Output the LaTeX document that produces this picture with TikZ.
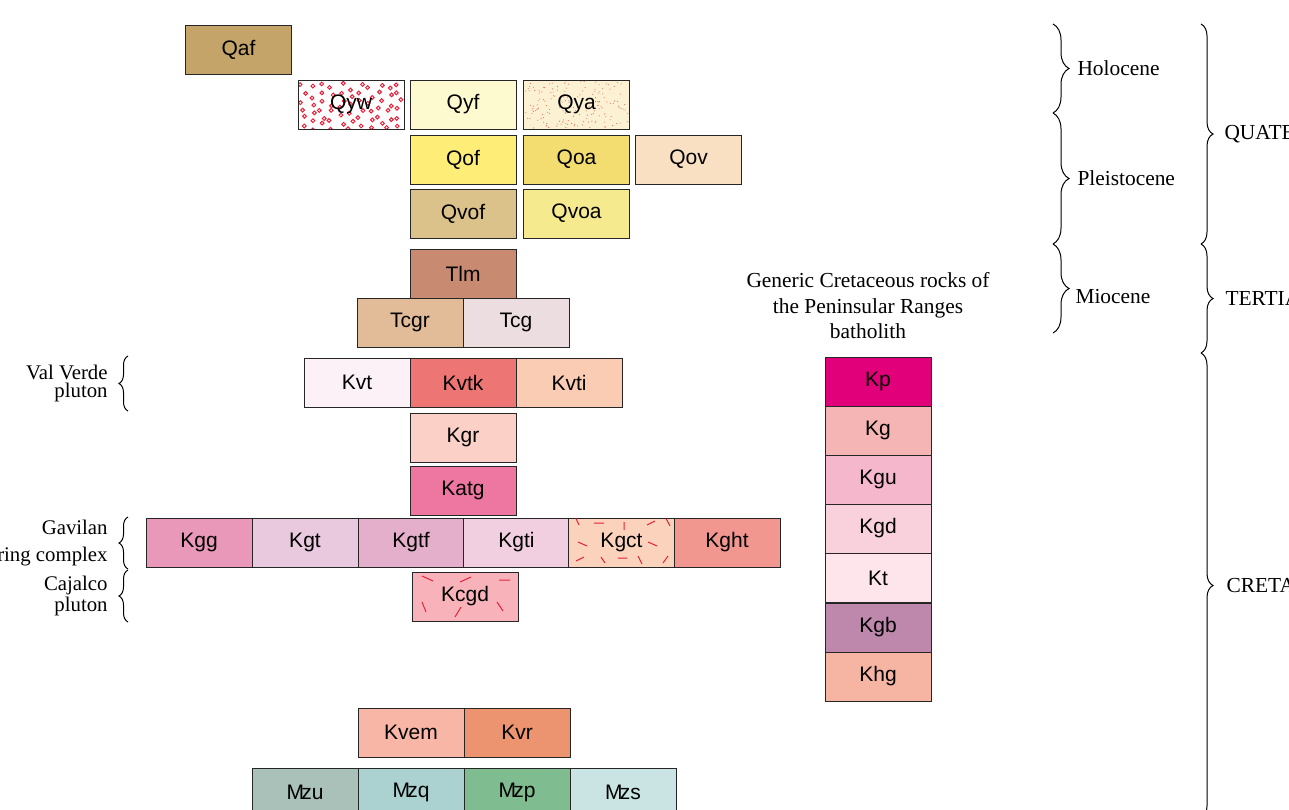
\documentclass[tikz,border=0pt]{standalone}
\usepackage{fontspec}
\setmainfont{Liberation Serif}
\setsansfont{Liberation Sans}
\usetikzlibrary{calc,decorations.pathreplacing}

% unit colours
\definecolor{cQaf}{HTML}{C4A469}
\definecolor{cQyw}{HTML}{FFFFFF}
\definecolor{cQyf}{HTML}{FEFAD0}
\definecolor{cQya}{HTML}{FCF1D3}
\definecolor{cQof}{HTML}{FEEE77}
\definecolor{cQoa}{HTML}{F3DD71}
\definecolor{cQov}{HTML}{F9E0C2}
\definecolor{cQvof}{HTML}{DBC18A}
\definecolor{cQvoa}{HTML}{F6EA8E}
\definecolor{cTlm}{HTML}{C98A72}
\definecolor{cTcgr}{HTML}{E2BB99}
\definecolor{cTcg}{HTML}{EBDDE0}
\definecolor{cKvt}{HTML}{FCF1F6}
\definecolor{cKvtk}{HTML}{ED7675}
\definecolor{cKvti}{HTML}{FACCB3}
\definecolor{cKgr}{HTML}{FBD0C7}
\definecolor{cKatg}{HTML}{EE77A2}
\definecolor{cKgg}{HTML}{EA98B9}
\definecolor{cKgt}{HTML}{E8C9DE}
\definecolor{cKgtf}{HTML}{E4AFCB}
\definecolor{cKgti}{HTML}{F2CFE0}
\definecolor{cKgct}{HTML}{FBD3BD}
\definecolor{cKght}{HTML}{F29790}
\definecolor{cKcgd}{HTML}{F8B3BA}
\definecolor{cKp}{HTML}{E2007A}
\definecolor{cKg}{HTML}{F5B5B5}
\definecolor{cKgu}{HTML}{F5B7CC}
\definecolor{cKgd}{HTML}{F9D1DD}
\definecolor{cKt}{HTML}{FDE5EB}
\definecolor{cKgb}{HTML}{BE87AC}
\definecolor{cKhg}{HTML}{F6B5A3}
\definecolor{cKvem}{HTML}{F7B6A6}
\definecolor{cKvr}{HTML}{EC9470}
\definecolor{cMzu}{HTML}{A9C1B9}
\definecolor{cMzq}{HTML}{ABD2D0}
\definecolor{cMzp}{HTML}{7FBC8F}
\definecolor{cMzs}{HTML}{C9E4E3}
\definecolor{ornred}{HTML}{E8203A}
\definecolor{dotred}{HTML}{EE6A5A}

\newcommand\Mz{M\kern-1.4pt z}

\begin{document}
\begin{tikzpicture}[x=0.5pt,y=-0.5pt,
  unitbox/.style={draw=black!85, line width=0.5pt, minimum width=53pt,
    minimum height=24.5pt, inner sep=0pt, font=\sffamily\fontsize{10.5}{12}\selectfont},
  % gravel rings on a jittered grid
  rings/.style={path picture={
      \pgfmathsetseed{23}
      \foreach \c in {0,...,10}{
        \foreach \r in {0,...,5}{
          \pgfmathsetmacro\px{5+\c*9.6+rnd*6-3}
          \pgfmathsetmacro\py{5+\r*8+mod(\c,2)*3+rnd*4-2}
          \draw[ornred, line width=0.5pt]
            ($(path picture bounding box.north west)+(\px,\py)$) circle[radius=1.9];}}}},
  specks/.style={path picture={
      \pgfmathsetseed{5}
      \foreach \i in {1,...,170}{
        \pgfmathsetmacro\px{rnd*104+1}\pgfmathsetmacro\py{rnd*47+1}
        \fill[dotred]
          ($(path picture bounding box.north west)+(\px,\py)$) circle[radius=0.55];}}},
  fabric/.style={ornred, line width=0.5pt},
  rbrace/.style={decorate, decoration={brace, amplitude=#1}, line width=0.5pt},
  rbrace/.default=8pt,
  lbl/.style={font=\fontsize{10.7}{12}\selectfont, inner sep=0pt}
]
\clip (0,0) rectangle (1289,809);

% Quaternary units
\node[unitbox, fill=cQaf] (Qaf) at (238.5,49.5) {Qaf};
\node[unitbox, fill=cQyw, rings] (Qyw) at (351,104.5) {Qyw};
\node[unitbox, fill=cQyf] (Qyf) at (463,104.5) {Qyf};
\node[unitbox, fill=cQya, specks] (Qya) at (576.5,104.5) {Qya};
\node[unitbox, fill=cQof] (Qof) at (463,159.5) {Qof};
\node[unitbox, fill=cQoa] (Qoa) at (576.5,159.5) {Qoa};
\node[unitbox, fill=cQov] (Qov) at (688.5,159.5) {Qov};
\node[unitbox, fill=cQvof] (Qvof) at (463,213.5) {Qvof};
\node[unitbox, fill=cQvoa] (Qvoa) at (576.5,213.5) {Qvoa};

% Tertiary units
\node[unitbox, fill=cTlm] (Tlm) at (463,273.5) {Tlm};
\node[unitbox, fill=cTcgr] (Tcgr) at (410,322.5) {Tcgr};
\node[unitbox, fill=cTcg] (Tcg) at (516,322.5) {Tcg};

% Cretaceous units
\node[unitbox, fill=cKvt] (Kvt) at (357,382.5) {Kvt};
\node[unitbox, fill=cKvtk] (Kvtk) at (463,382.5) {Kvtk};
\node[unitbox, fill=cKvti] (Kvti) at (569,382.5) {Kvti};
\node[unitbox, fill=cKgr] (Kgr) at (463,437.5) {Kgr};
\node[unitbox, fill=cKatg] (Katg) at (463,490.5) {Katg};
\node[unitbox, fill=cKgg] (Kgg) at (199,542.5) {Kgg};
\node[unitbox, fill=cKgt] (Kgt) at (305,542.5) {Kgt};
\node[unitbox, fill=cKgtf] (Kgtf) at (411,542.5) {Kgtf};
\node[unitbox, fill=cKgti] (Kgti) at (516.5,542.5) {Kgti};
\node[unitbox, fill=cKgct] (Kgct) at (621.5,542.5) {Kgct};
\node[unitbox, fill=cKght] (Kght) at (727,542.5) {Kght};
\node[unitbox, fill=cKcgd] (Kcgd) at (465,596.5) {Kcgd};
\node[unitbox, fill=cKvem] (Kvem) at (411,732.5) {Kvem};
\node[unitbox, fill=cKvr] (Kvr) at (517,732.5) {Kvr};

% Mesozoic units
\node[unitbox, fill=cMzu] (Mzu) at (305,792.5) {\Mz u};
\node[unitbox, fill=cMzq] (Mzq) at (411,792.5) {\Mz q};
\node[unitbox, fill=cMzp] (Mzp) at (517,792.5) {\Mz p};
\node[unitbox, fill=cMzs] (Mzs) at (623,792.5) {\Mz s};

% generic batholith column
\node[lbl, align=center, font=\fontsize{10.7}{12.75}\selectfont] (generic) at (868,306)
  {Generic Cretaceous rocks of\\the Peninsular Ranges\\batholith};
\node[unitbox, fill=cKp] (Kp) at (878,381.5) {Kp};
\node[unitbox, fill=cKg] (Kg) at (878,430.5) {Kg};
\node[unitbox, fill=cKgu] (Kgu) at (878,479.5) {Kgu};
\node[unitbox, fill=cKgd] (Kgd) at (878,528.5) {Kgd};
\node[unitbox, fill=cKt] (Kt) at (878,578) {Kt};
\node[unitbox, fill=cKgb] (Kgb) at (878,627.5) {Kgb};
\node[unitbox, fill=cKhg] (Khg) at (878,676.5) {Khg};

% crystal-fabric ornament
\draw[fabric] (576,518.5)--(579,525) (594,523)--(604,523) (624,522)--(624,530)
  (647,525)--(655,521) (666,518.5)--(670,526) (578,542)--(587,546)
  (648,542)--(657,546) (576,561)--(584,557) (601,557)--(605,563)
  (618,558)--(627,558) (638,556)--(642,564) (663,563)--(668,556);
\draw[fabric] (422,576)--(433,581) (460,582)--(471,577) (499,580)--(510,580)
  (422,602)--(426,612) (455,617)--(461,607) (497,602)--(503,611);

% pluton groupings
\coordinate (vvB) at (128,411); \coordinate (vvT) at (128,356);
\coordinate (gvB) at (128,569); \coordinate (gvT) at (128,517);
\coordinate (cjB) at (128,622); \coordinate (cjT) at (128,570);
\draw[rbrace=4.5pt] (vvB) -- (vvT);
\draw[rbrace=4.5pt] (gvB) -- (gvT);
\draw[rbrace=4.5pt] (cjB) -- (cjT);
\node[lbl, anchor=east, align=right, font=\fontsize{10.4}{9}\selectfont] (vv) at (108,383)
  {Val Verde\\pluton};
\node[lbl, anchor=east, align=right, font=\fontsize{10.4}{13.5}\selectfont] (gv) at (108,543)
  {Gavilan\\ring complex};
\node[lbl, anchor=east, align=right, font=\fontsize{10.4}{10.5}\selectfont] (cj) at (108,596)
  {Cajalco\\pluton};

% epochs
\coordinate (hoT) at (1053,24); \coordinate (hoB) at (1053,113);
\coordinate (plB) at (1053,244); \coordinate (miB) at (1053,333);
\draw[rbrace] (hoT) -- (hoB) node[lbl, midway, anchor=west, xshift=12pt] (holo) {Holocene};
\draw[rbrace] (hoB) -- (plB) node[lbl, midway, anchor=west, xshift=12pt] (pleis) {Pleistocene};
\draw[rbrace] (plB) -- (miB) node[lbl, midway, anchor=west, xshift=11pt, yshift=-4pt] (mio) {Miocene};

% periods
\coordinate (quT) at (1201,24); \coordinate (quB) at (1201,244);
\coordinate (teB) at (1201,353); \coordinate (crB) at (1201,818);
\draw[rbrace=6pt] (quT) -- (quB) node[lbl, midway, anchor=west, xshift=11.5pt] (quat) {QUATERNARY};
\draw[rbrace=6pt] (quB) -- (teB) node[lbl, midway, anchor=west, xshift=12pt] (tert) {TERTIARY};
\draw[rbrace=6pt] (teB) -- (crB) node[lbl, midway, anchor=west, xshift=12.5pt] (cret) {CRETACEOUS};
\end{tikzpicture}
\end{document}
